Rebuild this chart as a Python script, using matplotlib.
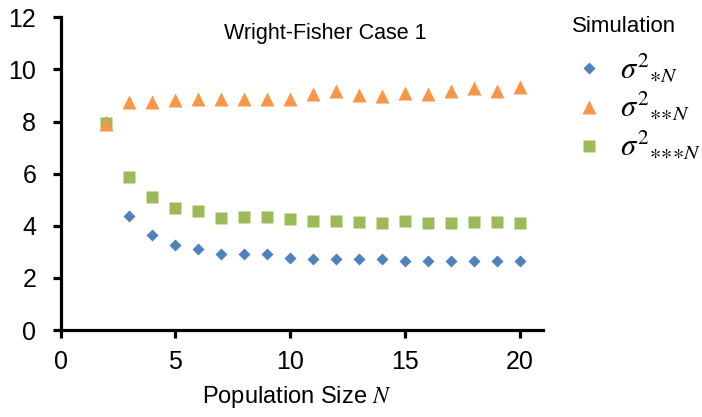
import matplotlib
matplotlib.use("Agg")
import matplotlib.pyplot as plt
from matplotlib import font_manager as fm
from matplotlib.lines import Line2D

N = list(range(2, 21))
sigma_star = [8.00, 4.39, 3.66, 3.26, 3.12, 2.93, 2.91, 2.90, 2.76, 2.74, 2.74,
              2.72, 2.71, 2.63, 2.65, 2.66, 2.66, 2.64, 2.63]
sigma_2star = [7.90, 8.76, 8.76, 8.82, 8.86, 8.86, 8.88, 8.88, 8.87, 9.05, 9.17,
               9.01, 8.99, 9.10, 9.04, 9.18, 9.27, 9.17, 9.33]
sigma_3star = [7.95, 5.88, 5.12, 4.69, 4.55, 4.30, 4.34, 4.32, 4.27, 4.18, 4.19,
               4.16, 4.12, 4.19, 4.12, 4.09, 4.16, 4.14, 4.12]
labels = [r'$\sigma^{2}{}_{{\ast}N}$', r'$\sigma^{2}{}_{{\ast}{\ast}N}$',
          r'$\sigma^{2}{}_{{\ast}{\ast}{\ast}N}$']
xticks = [0, 5, 10, 15, 20]
yticks = [0, 2, 4, 6, 8, 10, 12]
title = "Wright-Fisher Case 1"
legend_title = "Simulation"

names = {f.name for f in fm.fontManager.ttflist}
base = "Liberation Sans" if "Liberation Sans" in names else "DejaVu Sans"

plt.rcParams['font.family'] = [base, 'DejaVu Sans']
plt.rcParams['mathtext.fontset'] = 'stix'

blue, orange, green = '#4F81BD', '#F79646', '#9BBB59'

fig = plt.figure(figsize=(7.02, 4.17), dpi=100)
ax = fig.add_axes([0.0862, 0.2086, 0.6873, 0.7499])

ax.plot(N, sigma_star, linestyle='none', marker='D', markersize=6.6, color=blue,
        markeredgecolor='none', zorder=3)
ax.plot(N, sigma_3star, linestyle='none', marker='s', markersize=9.2, color=green,
        markeredgecolor='none', zorder=4)
ax.plot(N, sigma_2star, linestyle='none', marker='^', markersize=9.6, color=orange,
        markeredgecolor='none', zorder=5)

ax.set_xlim(0, 21)
ax.set_ylim(0, 12)
ax.set_xticks(xticks)
ax.set_yticks(yticks)
for s in ['top', 'right']:
    ax.spines[s].set_visible(False)
for s in ['left', 'bottom']:
    ax.spines[s].set_linewidth(2.3)
ax.tick_params(axis='both', direction='out', length=5.5, width=2.3, labelsize=18)
ax.tick_params(axis='y', pad=12)
ax.tick_params(axis='x', pad=9)

fig.text(325.5/702, 1-33/417, title, ha='center', va='center', fontsize=15.5)
fig.text(296.5/702, 1-397/417, r'Population Size $N$', ha='center', va='center',
         fontsize=17)
fig.text(572/702, 1-26/417, legend_title, ha='left', va='center', fontsize=16)

handles = [
    Line2D([], [], linestyle='none', marker='D', markersize=6.6, color=blue, markeredgecolor='none'),
    Line2D([], [], linestyle='none', marker='^', markersize=9.6, color=orange, markeredgecolor='none'),
    Line2D([], [], linestyle='none', marker='s', markersize=9.2, color=green, markeredgecolor='none'),
]
leg = fig.legend(handles, labels, loc='upper left', bbox_to_anchor=(570/702, 1-52/417),
                 frameon=False, fontsize=22,
                 handlelength=1.25, handletextpad=0.38, labelspacing=0.18, borderpad=0,
                 borderaxespad=0)

fig.savefig('out.png', dpi=100)
